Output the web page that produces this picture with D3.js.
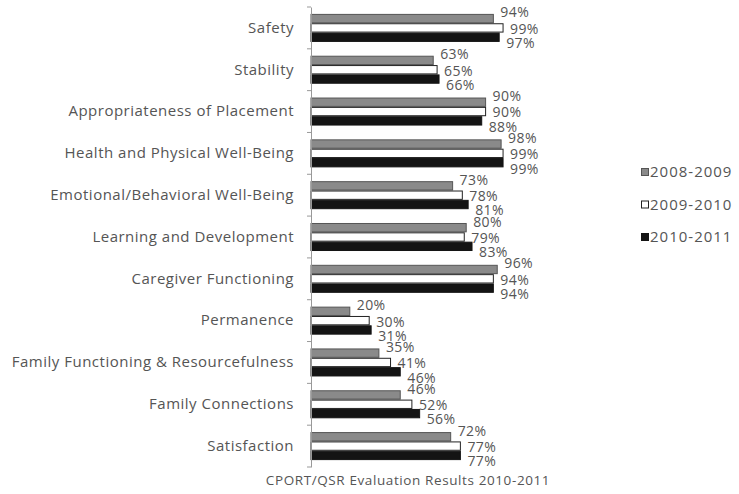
<!DOCTYPE html>
<html>
<head>
<meta charset="utf-8">
<script src="https://cdn.jsdelivr.net/npm/d3@7"></script>
<style>
  body { margin: 0; background: #fff; }
  text { font-family: "Open Sans", Lato, sans-serif; fill: #555; }
</style>
</head>
<body>
<svg id="chart" width="739" height="494"></svg>
<script>
var categories = [
  "Safety",
  "Stability",
  "Appropriateness of Placement",
  "Health and Physical Well-Being",
  "Emotional/Behavioral Well-Being",
  "Learning and Development",
  "Caregiver Functioning",
  "Permanence",
  "Family Functioning & Resourcefulness",
  "Family Connections",
  "Satisfaction"
];
var seriesNames = ["2008-2009", "2009-2010", "2010-2011"];
var values0809 = [94, 63, 90, 98, 73, 80, 96, 20, 35, 46, 72];
var values0910 = [99, 65, 90, 99, 78, 79, 94, 30, 41, 52, 77];
var values1011 = [97, 66, 88, 99, 81, 83, 94, 31, 46, 56, 77];
var caption = "CPORT/QSR Evaluation Results 2010-2011";

var series = [values0809, values0910, values1011];
var fills = ["#8a8a8a", "#ffffff", "#141414"],
  strokes = ["#555", "#222", "#141414"];

var svg = d3.select("#chart");
var plotLeft = 311, plotTop = 7, plotBottom = 467;

var x = d3.scaleLinear().domain([0, 100]).range([plotLeft, 505]);
var y = d3.scaleBand().domain(categories).range([plotTop, plotBottom]).paddingInner(0.33).paddingOuter(0.165);
var y1 = d3.scaleBand().domain(d3.range(3)).range([0, y.bandwidth()]);

// bars
var groups = svg.selectAll(".cat")
  .data(categories)
  .enter()
  .append("g")
  .attr("class", "cat")
  .attr("transform", function (d) { return "translate(0," + y(d) + ")"; });

groups.selectAll("rect")
  .data(function (d, i) { return series.map(function (s, j) { return {j: j, v: s[i]}; }); })
  .enter()
  .append("rect")
  .attr("x", x(0))
  .attr("y", function (d) { return y1(d.j) + 0.5; })
  .attr("width", function (d) { return x(d.v) - x(0); })
  .attr("height", y1.bandwidth() - 1)
  .attr("fill", function (d) { return fills[d.j]; })
  .attr("stroke", function (d) { return strokes[d.j]; })
  .attr("stroke-width", 1);

// value labels, spread a little like Excel
var labelShift = [-6, 1, 6];
groups.selectAll(".val")
  .data(function (d, i) { return series.map(function (s, j) { return {j: j, v: s[i]}; }); })
  .enter()
  .append("text")
  .attr("class", "val")
  .attr("x", function (d) { return x(d.v) + 7; })
  .attr("y", function (d) { return y1(d.j) + y1.bandwidth() / 2 + labelShift[d.j]; })
  .attr("dy", "0.35em")
  .attr("font-size", "14px")
  .attr("letter-spacing", "0.4px")
  .text(function (d) { return d.v + "%"; });

// axis
var axis = d3.axisLeft(y).tickSize(0).tickPadding(17);
var ax = svg.append("g").attr("transform", "translate(" + plotLeft + ",0)").call(axis);
ax.select(".domain").attr("stroke", "#999");
ax.selectAll("text")
  .attr("font-size", "15px")
  .attr("letter-spacing", "0.5px")
  .style("fill", "#555")
  .attr("font-family", "'Open Sans', sans-serif");

// tick marks at band edges
var edges = categories.map(function (d) { return y(d) - y.step() * y.paddingInner() / 2; }).concat([plotBottom]);
svg.selectAll(".edge")
  .data(edges)
  .enter()
  .append("line")
  .attr("x1", plotLeft - 4)
  .attr("x2", plotLeft)
  .attr("y1", function (d) { return d; })
  .attr("y2", function (d) { return d; })
  .attr("stroke", "#999");

// legend
var legend = svg.selectAll(".leg")
  .data(seriesNames)
  .enter()
  .append("g")
  .attr("class", "leg")
  .attr("transform", function (d, i) { return "translate(641," + (172 + i * 32.5) + ")"; });
legend.append("rect")
  .attr("x", 0.5).attr("y", -3.5).attr("width", 7).attr("height", 7)
  .attr("fill", function (d, i) { return fills[i]; })
  .attr("stroke", function (d, i) { return strokes[i]; });
legend.append("text")
  .attr("x", 9)
  .attr("dy", "0.35em")
  .attr("font-size", "15px")
  .attr("letter-spacing", "1px")
  .text(function (d) { return d; });

svg.append("text")
  .attr("x", 408)
  .attr("y", 485)
  .attr("text-anchor", "middle")
  .attr("font-size", "13.5px")
  .attr("letter-spacing", "0.6px")
  .text(caption);
</script>
</body>
</html>
